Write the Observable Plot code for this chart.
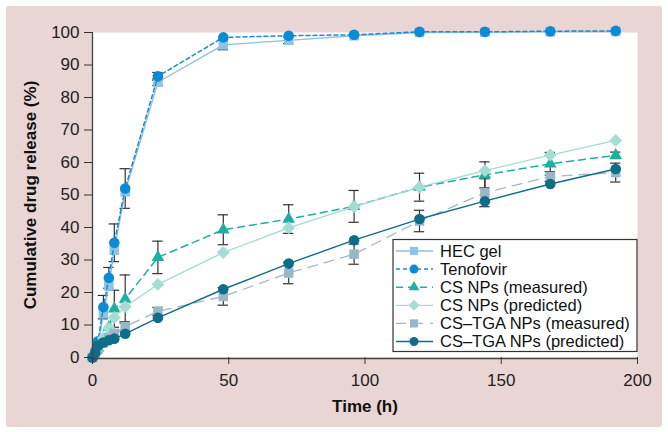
<!DOCTYPE html>
<html>
<head>
<meta charset="utf-8">
<script src="https://cdn.jsdelivr.net/npm/d3@7"></script>
<script src="https://cdn.jsdelivr.net/npm/@observablehq/plot@0.6"></script>
<style>
  html, body { margin: 0; padding: 0; background: #ffffff; }
  #wrap { position: relative; width: 668px; height: 432px; }
  #bg { position: absolute; left: 6px; top: 6px; width: 656px; height: 421px; background: #e9d5d3; border-radius: 3px; }
  #chart { position: absolute; left: 0; top: 0; }
</style>
</head>
<body>
<div id="wrap"><div id="bg"></div><div id="chart"></div></div>
<script>
// ---- data ----
const times = [0, 1, 2, 4, 6, 8, 12, 24, 48, 72, 96, 120, 144, 168, 192];
const seriesNames = ["HEC gel", "Tenofovir", "CS NPs (measured)", "CS NPs (predicted)", "CS\u2013TGA NPs (measured)", "CS\u2013TGA NPs (predicted)"];
const hecGel       = [0, 1, 3, 13.5, 22, 33, 51, 84.7, 96.2, 97.6, 99, 100, 100.1, 100.2, 100.3];
const tenofovir    = [0, 2, 5, 15.5, 24.5, 35.3, 52, 86.5, 98.5, 99, 99.3, 100.2, 100.2, 100.4, 100.5];
const csMeasured   = [1, 2, 3, 5.5, 9.3, 15, 18, 30.8, 39.3, 42.6, 46.5, 52.4, 56.2, 59.6, 62.2];
const csPredicted  = [0, 1.5, 3, 6, 9, 12.3, 15.6, 22.5, 32.3, 39.9, 46.4, 52.4, 57.5, 62.3, 66.8];
const tgaMeasured  = [0, 1, 2.5, 4.5, 6, 7.4, 9.5, 14.2, 18.8, 26, 31.8, 42, 50.7, 55.7, 56.9];
const tgaPredicted = [0, 1.4, 3.6, 4.6, 5.3, 5.8, 7.3, 12.2, 21, 28.9, 36.1, 42.6, 48.1, 53.4, 58];
// error bars (SD), null = none drawn
const hecErr         = [null, null, null, null, null, null, null, 1, 1.5, 1, null, null, null, null, null];
const tenofovirErr   = [null, null, null, 3.6, 3.2, 5.8, 6.1, 1.2, null, null, null, null, null, null, null];
const csMeasuredErr  = [null, null, null, null, null, 5.7, 7.4, 5, 4.6, 4.4, 4.9, 4.3, 4, 3.5, 1];
const tgaMeasuredErr = [null, null, null, null, null, null, 1.5, 1.2, 2.7, 3.3, 3.1, 3.3, 4.3, 1.5, 2.9];
const xTicks = [0, 50, 100, 150, 200];
const yTicks = [0, 10, 20, 30, 40, 50, 60, 70, 80, 90, 100];

// ---- styles ----
const styles = [
  {values: hecGel, err: hecErr, color: "#8fc3e8", line: "#8dbfe3", dash: null, lw: 1.3, symbol: "square", r: 5.4},
  {values: tenofovir, err: tenofovirErr, color: "#0b8ad6", line: "#1a8cd4", dash: "4,3", lw: 1.5, symbol: "circle", r: 5.3},
  {values: csMeasured, err: csMeasuredErr, color: "#1daf9f", line: "#1daf9f", dash: "7,5", lw: 1.5, symbol: "triangle", r: 4.7},
  {values: csPredicted, err: null, color: "#a5dcd3", line: "#a5dcd3", dash: null, lw: 1.3, symbol: "diamond2", r: 5.8},
  {values: tgaMeasured, err: tgaMeasuredErr, color: "#9bb5c9", line: "#a4b7c9", dash: "10,7", lw: 1.3, symbol: "square", r: 5.4},
  {values: tgaPredicted, err: null, color: "#0e6d87", line: "#0e6d87", dash: null, lw: 1.4, symbol: "circle", r: 5.3}
];

const rowsOf = (vals) => times.map((t, i) => ({t, v: vals[i]}));
const errRows = [];
styles.forEach(s => {
  if (!s.err) return;
  times.forEach((t, i) => { if (s.err[i] != null) errRows.push({t, v: s.values[i], e: s.err[i]}); });
});

const capW = 1.9;
const marks = [
  Plot.frame({fill: "white", stroke: null}),
  Plot.ruleX(errRows, {x: "t", y1: d => d.v - d.e, y2: d => d.v + d.e, stroke: "#333", strokeWidth: 1.2}),
  Plot.ruleY(errRows, {y: d => d.v + d.e, x1: d => d.t - capW, x2: d => d.t + capW, stroke: "#333", strokeWidth: 1.2}),
  Plot.ruleY(errRows, {y: d => d.v - d.e, x1: d => d.t - capW, x2: d => d.t + capW, stroke: "#333", strokeWidth: 1.2})
];
styles.forEach(s => {
  const rows = rowsOf(s.values);
  marks.push(Plot.line(rows, {x: "t", y: "v", stroke: s.line, strokeWidth: s.lw, strokeDasharray: s.dash}));
  marks.push(Plot.dot(rows, {x: "t", y: "v", symbol: s.symbol, r: s.r, fill: s.color, stroke: "none"}));
});
marks.push(
  Plot.axisX({ticks: xTicks, tickSize: 7, tickPadding: 9, tickFormat: d => d, label: null, stroke: "#333", fill: "#222"}),
  Plot.axisY({ticks: yTicks, tickSize: 8, tickPadding: 5, tickFormat: d => d, label: null, stroke: "#333", fill: "#222"}),
  Plot.ruleY([0], {dy: 1, stroke: "#444", strokeWidth: 1.3}),
  Plot.ruleX([0], {stroke: "#444", strokeWidth: 1.3}),
  Plot.text(["Time (h)"], {frameAnchor: "bottom", dy: 54, fontWeight: "bold", fill: "#111", textAnchor: "middle"}),
  Plot.text(["Cumulative drug release (%)"], {frameAnchor: "left", dx: -62, rotate: -90, fontWeight: "bold", fill: "#111", textAnchor: "middle"})
);

const chart = Plot.plot({
  width: 668, height: 432,
  marginLeft: 92, marginRight: 31, marginTop: 32, marginBottom: 75,
  style: {background: "transparent", fontSize: "17px", fontFamily: "'Liberation Sans', Arial, sans-serif", overflow: "visible"},
  x: {domain: [0, 200]},
  y: {domain: [0, 100]},
  marks
});
document.getElementById("chart").appendChild(chart);

// ---- legend (inside plot area) ----
const svg = d3.select(chart);
const lg = svg.append("g").attr("font-family", "'Liberation Sans', Arial, sans-serif").attr("font-size", 16.5).attr("text-anchor", "start");
lg.append("rect").attr("x", 393).attr("y", 239.5).attr("width", 244).attr("height", 112)
  .attr("fill", "white").attr("stroke", "#333").attr("stroke-width", 1.2);
const symMap = {square: d3.symbolSquare, circle: d3.symbolCircle, triangle: d3.symbolTriangle, diamond2: d3.symbolDiamond2};
styles.forEach((s, i) => {
  const y = 251 + i * 18.1;
  lg.append("line").attr("x1", 396).attr("x2", 433).attr("y1", y).attr("y2", y)
    .attr("stroke", s.line).attr("stroke-width", s.lw).attr("stroke-dasharray", s.dash);
  lg.append("path").attr("transform", `translate(414,${y})`)
    .attr("d", d3.symbol(symMap[s.symbol], Math.PI * (s.r * 0.85) ** 2)()).attr("fill", s.color);
  lg.append("text").attr("x", 440).attr("y", y).attr("dy", "0.36em").attr("text-anchor", "start").attr("fill", "#111").text(seriesNames[i]);
});
</script>
</body>
</html>
